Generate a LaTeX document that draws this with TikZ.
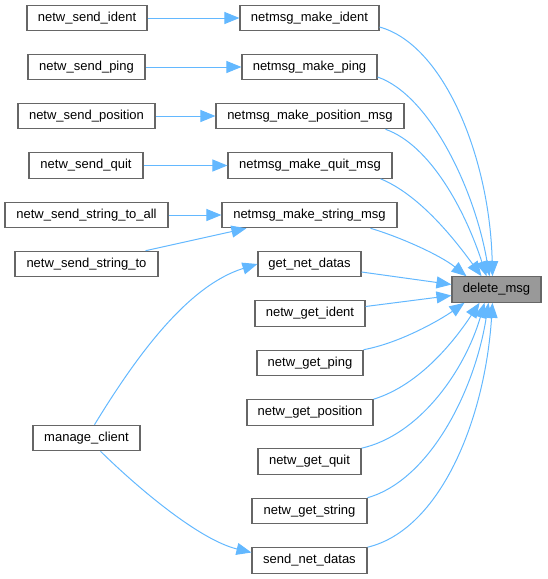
\documentclass[tikz,border=0pt]{standalone}
\usepackage{fontspec}
\setmainfont{Liberation Sans}
\usetikzlibrary{arrows.meta}
\definecolor{edgeblue}{HTML}{63B8FF}
\definecolor{boxgray}{HTML}{666666}
\definecolor{curgray}{HTML}{999999}
\begin{document}
\begin{tikzpicture}[x=1pt,y=-1pt,
    fn/.style={draw=boxgray,fill=white,line width=1.1pt,minimum height=25.5pt,inner sep=0pt,font={\fontsize{13}{15}\selectfont}},
    cur/.style={fn,fill=curgray},
    call/.style={edgeblue,line width=1pt,-{Triangle[length=15pt,width=12pt]}}]
\useasboundingbox (0,0) rectangle (547,579);
% callers of the makers
\node[fn,minimum width=120pt] (sid) at (87,18) {netw\_send\_ident};
\node[fn,minimum width=117pt] (spi) at (86.5,67) {netw\_send\_ping};
\node[fn,minimum width=137pt] (spo) at (86.5,116) {netw\_send\_position};
\node[fn,minimum width=114pt] (squ) at (86,165.5) {netw\_send\_quit};
\node[fn,minimum width=163pt] (sal) at (86.5,215) {netw\_send\_string\_to\_all};
\node[fn,minimum width=143pt] (sto) at (86.5,264) {netw\_send\_string\_to};
\node[fn,minimum width=107pt] (mc) at (86.5,438) {manage\_client};
% direct callers
\node[fn,minimum width=139pt] (mid) at (309.5,18) {netmsg\_make\_ident};
\node[fn,minimum width=135pt] (mpi) at (309.5,67) {netmsg\_make\_ping};
\node[fn,minimum width=188pt] (mpo) at (310,116) {netmsg\_make\_position\_msg};
\node[fn,minimum width=164pt] (mqu) at (310,165.5) {netmsg\_make\_quit\_msg};
\node[fn,minimum width=175pt] (mst) at (309.5,215) {netmsg\_make\_string\_msg};
\node[fn,minimum width=103pt] (gd) at (309.5,264) {get\_net\_datas};
\node[fn,minimum width=110pt] (gid) at (310,313.5) {netw\_get\_ident};
\node[fn,minimum width=106pt] (gpi) at (310,363) {netw\_get\_ping};
\node[fn,minimum width=126pt] (gpo) at (310,412.5) {netw\_get\_position};
\node[fn,minimum width=103pt] (gqu) at (309.5,461.5) {netw\_get\_quit};
\node[fn,minimum width=115pt] (gst) at (309.5,511) {netw\_get\_string};
\node[fn,minimum width=115pt] (sn) at (309.5,560.5) {send\_net\_datas};
\node[cur,minimum width=89pt] (dm) at (496.5,289.5) {delete\_msg};
% edges
\foreach \a/\b in {sid/mid,spi/mpi,spo/mpo,squ/mqu,sal/mst}{\draw[call] (\a) -- (\b);}
\draw[call] ([xshift=-13pt]sto.north east) -- ([xshift=25pt]mst.south west);
\draw[call] ([xshift=8pt]mc.north) .. controls (140,350) and (190,285) .. (gd.west);
\draw[call] ([xshift=14pt]mc.south) .. controls (140,490) and (200,540) .. ([yshift=8pt]sn.west);
\draw[call] ([yshift=-9pt]mid.east) .. controls (445,45) and (490,160) .. ([xshift=-4pt]dm.north);
\draw[call] ([yshift=-10pt]mpi.east) .. controls (430,95) and (475,190) .. ([xshift=-7pt]dm.north);
\draw[call] ([xshift=-19pt]mpo.south east) .. controls (430,145) and (465,210) .. ([xshift=-10pt]dm.north);
\draw[call] ([xshift=-12pt]mqu.south east) .. controls (420,195) and (455,240) .. ([xshift=-15pt]dm.north);
\draw[call] ([xshift=-27pt]mst.south east) .. controls (400,237) and (440,255) .. ([xshift=-30pt]dm.north);
\draw[call] ([yshift=-8pt]gd.east) -- ([yshift=5pt]dm.west);
\draw[call] ([yshift=7pt]gid.east) -- ([yshift=-6pt]dm.west);
\draw[call] (gpi.north east) .. controls (400,343) and (440,320) .. ([xshift=-32pt]dm.south);
\draw[call] (gpo.north east) .. controls (420,385) and (455,340) .. ([xshift=-17pt]dm.south);
\draw[call] (gqu.north east) .. controls (420,435) and (465,370) .. ([xshift=-12pt]dm.south);
\draw[call] (gst.north east) .. controls (430,480) and (475,390) .. ([xshift=-8pt]dm.south);
\draw[call] (sn.north east) .. controls (440,530) and (485,420) .. ([xshift=-4pt]dm.south);
\end{tikzpicture}
\end{document}
